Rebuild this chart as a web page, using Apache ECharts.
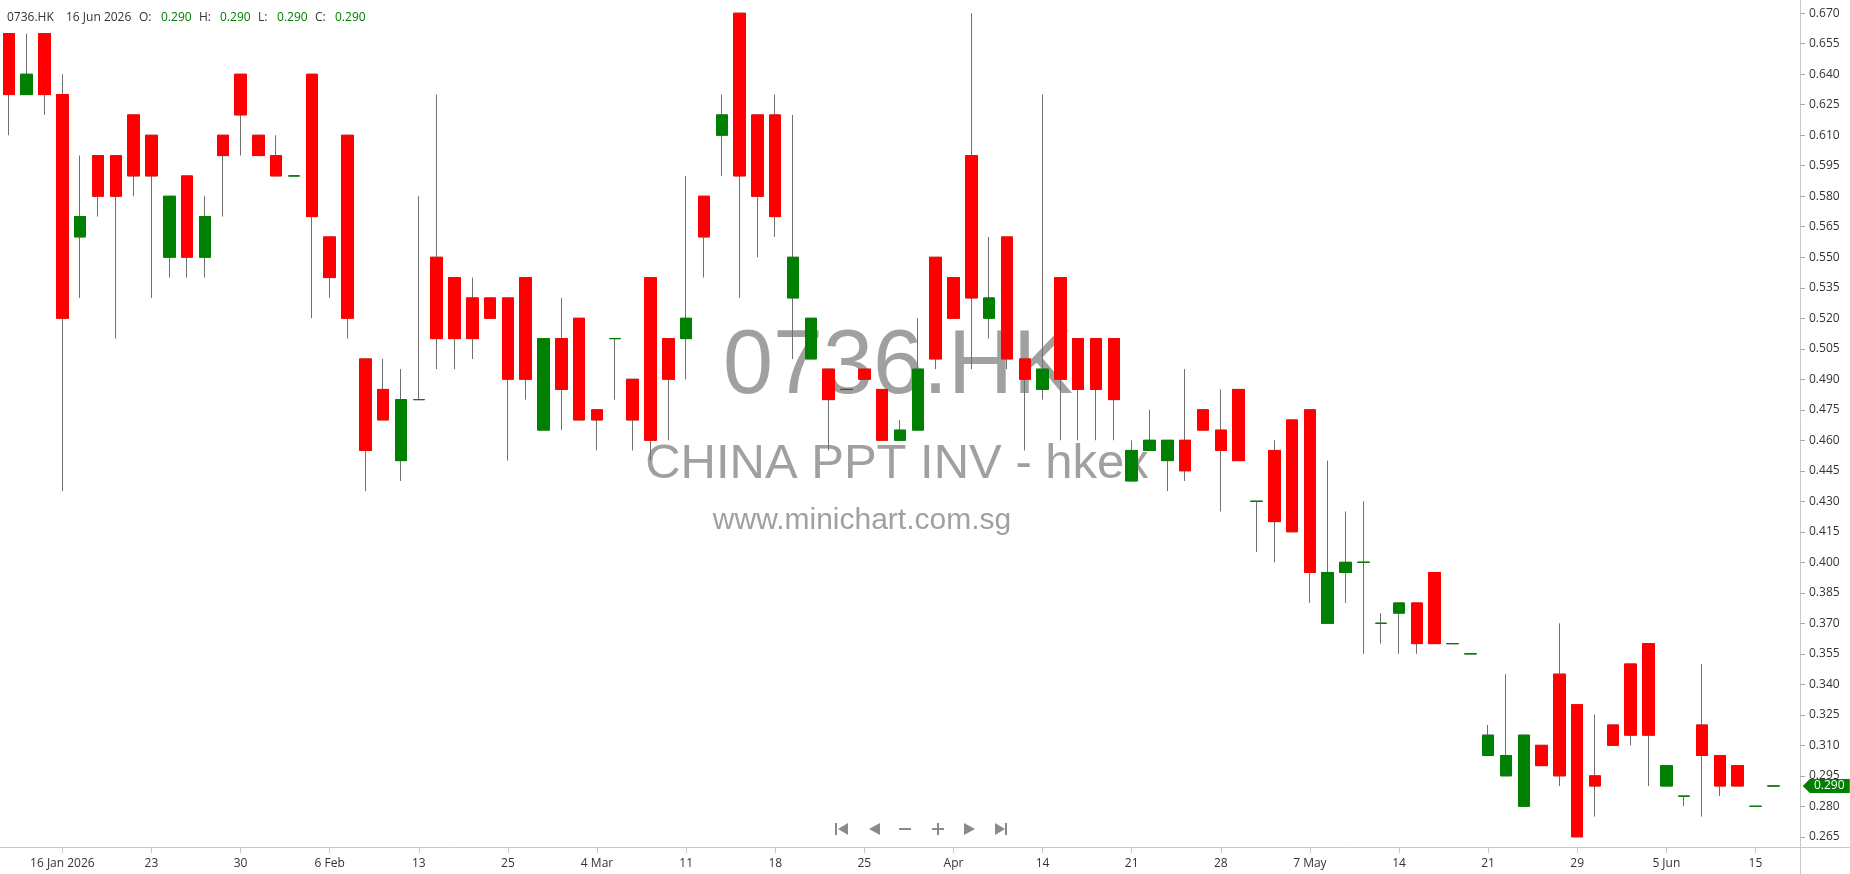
<!DOCTYPE html>
<html><head><meta charset="utf-8">
<script src="https://cdn.jsdelivr.net/npm/echarts@6/dist/echarts.min.js"></script>
<style>html,body{margin:0;padding:0;background:#fff}#c{width:1850px;height:874px}</style>
</head><body><div id="c"></div>
<script>
const symbolCode = '0736.HK';
const companyName = 'CHINA PPT INV - hkex';
const siteName = 'www.minichart.com.sg';

const dates = [
 '2026-01-13','2026-01-14','2026-01-15','2026-01-16',
 '2026-01-19','2026-01-20','2026-01-21','2026-01-22','2026-01-23',
 '2026-01-26','2026-01-27','2026-01-28','2026-01-29','2026-01-30',
 '2026-02-02','2026-02-03','2026-02-04','2026-02-05','2026-02-06',
 '2026-02-09','2026-02-10','2026-02-11','2026-02-12','2026-02-13',
 '2026-02-16','2026-02-20','2026-02-23','2026-02-24','2026-02-25',
 '2026-02-26','2026-02-27','2026-03-02','2026-03-03','2026-03-04',
 '2026-03-05','2026-03-06','2026-03-09','2026-03-10','2026-03-11',
 '2026-03-12','2026-03-13','2026-03-16','2026-03-17','2026-03-18',
 '2026-03-19','2026-03-20','2026-03-23','2026-03-24','2026-03-25',
 '2026-03-26','2026-03-27','2026-03-30','2026-03-31','2026-04-01',
 '2026-04-02','2026-04-08','2026-04-09','2026-04-10','2026-04-14',
 '2026-04-15','2026-04-16','2026-04-17','2026-04-20','2026-04-21',
 '2026-04-22','2026-04-23','2026-04-24','2026-04-27','2026-04-28',
 '2026-04-29','2026-04-30','2026-05-04','2026-05-06','2026-05-07',
 '2026-05-08','2026-05-11','2026-05-12','2026-05-13','2026-05-14',
 '2026-05-15','2026-05-18','2026-05-19','2026-05-20','2026-05-21',
 '2026-05-22','2026-05-26','2026-05-27','2026-05-28','2026-05-29',
 '2026-06-01','2026-06-02','2026-06-03','2026-06-04','2026-06-05',
 '2026-06-08','2026-06-09','2026-06-10','2026-06-11','2026-06-15',
 '2026-06-16'
];
const opens = [
 0.66,0.63,0.66,0.63,0.56,0.60,0.60,0.62,0.61,0.55,
 0.59,0.55,0.61,0.64,0.61,0.60,0.59,0.64,0.56,0.61,
 0.50,0.485,0.45,0.48,0.55,0.54,0.53,0.53,0.53,0.54,
 0.465,0.51,0.52,0.475,0.51,0.49,0.54,0.51,0.51,0.58,
 0.61,0.67,0.62,0.62,0.53,0.50,0.495,0.485,0.495,0.485,
 0.46,0.465,0.55,0.54,0.60,0.52,0.56,0.50,0.485,0.54,
 0.51,0.51,0.51,0.44,0.455,0.45,0.46,0.475,0.465,0.485,
 0.43,0.455,0.47,0.475,0.37,0.395,0.40,0.37,0.375,0.38,
 0.395,0.36,0.355,0.305,0.295,0.28,0.31,0.345,0.33,0.295,
 0.32,0.35,0.36,0.29,0.285,0.32,0.305,0.30,0.28,0.29
];
const highs = [
 0.66,0.66,0.66,0.64,0.60,0.60,0.60,0.62,0.61,0.58,
 0.59,0.58,0.61,0.64,0.61,0.61,0.59,0.64,0.56,0.61,
 0.50,0.50,0.495,0.58,0.63,0.54,0.54,0.53,0.53,0.54,
 0.51,0.53,0.52,0.475,0.51,0.49,0.54,0.51,0.59,0.58,
 0.63,0.67,0.62,0.63,0.62,0.52,0.495,0.485,0.495,0.485,
 0.47,0.52,0.55,0.54,0.67,0.56,0.56,0.50,0.63,0.54,
 0.51,0.51,0.51,0.46,0.475,0.46,0.495,0.475,0.485,0.485,
 0.43,0.46,0.47,0.475,0.45,0.425,0.43,0.375,0.38,0.38,
 0.395,0.36,0.355,0.32,0.345,0.315,0.31,0.37,0.33,0.325,
 0.32,0.35,0.36,0.30,0.285,0.35,0.305,0.30,0.28,0.29
];
const lows = [
 0.61,0.63,0.62,0.435,0.53,0.57,0.51,0.58,0.53,0.54,
 0.54,0.54,0.57,0.60,0.60,0.59,0.59,0.52,0.53,0.51,
 0.435,0.47,0.44,0.48,0.495,0.495,0.50,0.52,0.45,0.48,
 0.465,0.465,0.47,0.455,0.48,0.455,0.45,0.46,0.49,0.54,
 0.59,0.53,0.55,0.56,0.50,0.50,0.455,0.485,0.49,0.46,
 0.46,0.465,0.495,0.52,0.495,0.51,0.495,0.455,0.48,0.46,
 0.46,0.46,0.46,0.44,0.455,0.435,0.44,0.465,0.425,0.45,
 0.405,0.40,0.415,0.38,0.37,0.38,0.355,0.36,0.355,0.355,
 0.36,0.36,0.355,0.305,0.295,0.28,0.30,0.29,0.265,0.275,
 0.31,0.31,0.29,0.29,0.28,0.275,0.285,0.29,0.28,0.29
];
const closes = [
 0.63,0.64,0.63,0.52,0.57,0.58,0.58,0.59,0.59,0.58,
 0.55,0.57,0.60,0.62,0.60,0.59,0.59,0.57,0.54,0.52,
 0.455,0.47,0.48,0.48,0.51,0.51,0.51,0.52,0.49,0.49,
 0.51,0.485,0.47,0.47,0.51,0.47,0.46,0.49,0.52,0.56,
 0.62,0.59,0.58,0.57,0.55,0.52,0.48,0.485,0.49,0.46,
 0.465,0.495,0.50,0.52,0.53,0.53,0.50,0.49,0.495,0.49,
 0.485,0.485,0.48,0.455,0.46,0.46,0.445,0.465,0.455,0.45,
 0.43,0.42,0.415,0.395,0.395,0.40,0.40,0.37,0.38,0.36,
 0.36,0.36,0.355,0.315,0.305,0.315,0.30,0.295,0.265,0.29,
 0.31,0.315,0.315,0.30,0.285,0.305,0.29,0.29,0.28,0.29
];
const tickDates = [
 '2026-01-16','2026-01-23','2026-01-30','2026-02-06','2026-02-13',
 '2026-02-25','2026-03-04','2026-03-11','2026-03-18','2026-03-25',
 '2026-04-01','2026-04-14','2026-04-21','2026-04-28','2026-05-07',
 '2026-05-14','2026-05-21','2026-05-29','2026-06-05','2026-06-15'
];
const tickLabels = [
 '16 Jan 2026','23','30','6 Feb','13',
 '25','4 Mar','11','18','25',
 'Apr','14','21','28','7 May',
 '14','21','29','5 Jun','15'
];
const yTicks = [
 0.265,0.280,0.295,0.310,0.325,0.340,0.355,0.370,0.385,0.400,
 0.415,0.430,0.445,0.460,0.475,0.490,0.505,0.520,0.535,0.550,
 0.565,0.580,0.595,0.610,0.625,0.640,0.655,0.670
];

const UP = '#008000', DOWN = '#ff0000', WICK = '#707070', TXT = '#333333';
const FONT = 'Open Sans';
const tickMap = {};
tickDates.forEach((d, i) => { tickMap[d] = tickLabels[i]; });
const showTick = (idx, val) => Object.prototype.hasOwnProperty.call(tickMap, val);

const wickData = dates.map((d, i) => [opens[i], closes[i], lows[i], highs[i]]);
const bodyData = dates.map((d, i) => [opens[i], closes[i], Math.min(opens[i], closes[i]), Math.max(opens[i], closes[i])]);

const last = dates.length - 1;
const MON = ['Jan','Feb','Mar','Apr','May','Jun','Jul','Aug','Sep','Oct','Nov','Dec'];
const ld = dates[last].split('-');
const lastDateText = (+ld[2]) + ' ' + MON[+ld[1] - 1] + ' ' + ld[0];
const f3 = v => v.toFixed(3);

const legendItems = [
 {x: 7, t: symbolCode, c: TXT},
 {x: 66, t: lastDateText, c: TXT},
 {x: 139, t: 'O:', c: TXT},
 {x: 161, t: f3(opens[last]), c: UP},
 {x: 199, t: 'H:', c: TXT},
 {x: 220, t: f3(highs[last]), c: UP},
 {x: 258, t: 'L:', c: TXT},
 {x: 277, t: f3(lows[last]), c: UP},
 {x: 315, t: 'C:', c: TXT},
 {x: 335, t: f3(closes[last]), c: UP}
];

const NAV = '#8a8a8a';
const graphics = [
 {type:'text', z:0, style:{text: symbolCode, x: 898, y: 368, align:'center', verticalAlign:'middle', font:'90px "Liberation Sans", Arial, sans-serif', fill:'#a0a0a0'}},
 {type:'text', z:0, style:{text: companyName, x: 897, y: 464, align:'center', verticalAlign:'middle', font:'49px "Liberation Sans", Arial, sans-serif', fill:'#a0a0a0'}},
 {type:'text', z:0, style:{text: siteName, x: 862, y: 521, align:'center', verticalAlign:'middle', font:'30px "Liberation Sans", Arial, sans-serif', fill:'#a0a0a0'}},
 {type:'rect', shape:{x:835,y:823,width:2,height:12}, style:{fill:NAV}},
 {type:'polygon', shape:{points:[[848,823],[838,829],[848,835]]}, style:{fill:NAV}},
 {type:'polygon', shape:{points:[[880,823],[869,829],[880,835]]}, style:{fill:NAV}},
 {type:'rect', shape:{x:899,y:828,width:12,height:2}, style:{fill:NAV}},
 {type:'rect', shape:{x:932,y:828,width:12,height:2}, style:{fill:NAV}},
 {type:'rect', shape:{x:937,y:823,width:2,height:12}, style:{fill:NAV}},
 {type:'polygon', shape:{points:[[964,823],[975,829],[964,835]]}, style:{fill:NAV}},
 {type:'polygon', shape:{points:[[995,823],[1005,829],[995,835]]}, style:{fill:NAV}},
 {type:'rect', shape:{x:1005,y:823,width:2,height:12}, style:{fill:NAV}},
 {type:'line', shape:{x1:1800,y1:847.5,x2:1850,y2:847.5}, style:{stroke:'#c8c8c8',lineWidth:1}},
 {type:'line', shape:{x1:1800.5,y1:847,x2:1800.5,y2:874}, style:{stroke:'#c8c8c8',lineWidth:1}}
].concat(legendItems.map(it => ({type:'text', z:5, style:{text: it.t, x: it.x, y: 18, verticalAlign:'middle', font:'12px "Open Sans", sans-serif', fill: it.c}})));

const chart = echarts.init(document.getElementById('c'), null, {renderer:'canvas'});
chart.setOption({
 animation: false,
 backgroundColor: '#ffffff',
 grid: {left: 0, right: 50, top: 0, bottom: 27, containLabel: false},
 xAxis: {
  type: 'category', data: dates.concat(['']), boundaryGap: true,
  axisLine: {show: true, lineStyle: {color: '#c8c8c8'}},
  axisTick: {show: true, alignWithLabel: true, length: 6, interval: showTick, lineStyle: {color: '#c8c8c8'}},
  axisLabel: {interval: showTick, formatter: v => tickMap[v] || '', color: TXT, fontSize: 12, fontFamily: FONT, margin: 11},
  splitLine: {show: false}
 },
 yAxis: {
  type: 'value', position: 'right', min: 0.26, max: 0.6765,
  axisLine: {show: true, lineStyle: {color: '#c8c8c8'}},
  axisTick: {show: true, length: 5, customValues: yTicks, lineStyle: {color: '#aaaaaa'}},
  axisLabel: {customValues: yTicks, formatter: v => v.toFixed(3), color: TXT, fontSize: 12, fontFamily: FONT, margin: 9},
  splitLine: {show: false}
 },
 graphic: graphics,
 series: [
  {
   type: 'candlestick', name: 'wick', data: wickData, barWidth: 12,
   itemStyle: {color: 'rgba(0,0,0,0)', color0: 'rgba(0,0,0,0)', borderColor: WICK, borderColor0: WICK, borderColorDoji: WICK, borderWidth: 1},
   silent: true
  },
  {
   type: 'candlestick', name: symbolCode, data: bodyData, barWidth: 12,
   itemStyle: {color: UP, color0: DOWN, borderColor: UP, borderColor0: DOWN, borderColorDoji: UP, borderWidth: 1},
   silent: true,
   markPoint: {
    symbol: 'path://M0,7 L7,0 L47,0 L47,14 L7,14 Z',
    symbolSize: [47, 14],
    symbolOffset: [53, 0],
    symbolKeepAspect: false,
    itemStyle: {color: UP},
    label: {show: true, position: 'inside', color: '#ffffff', fontSize: 12, fontFamily: FONT, offset: [3, 0], formatter: p => f3(p.value)},
    data: [{coord: [dates[last], closes[last]], value: closes[last]}]
   }
  }
 ]
});
</script>
</body></html>
